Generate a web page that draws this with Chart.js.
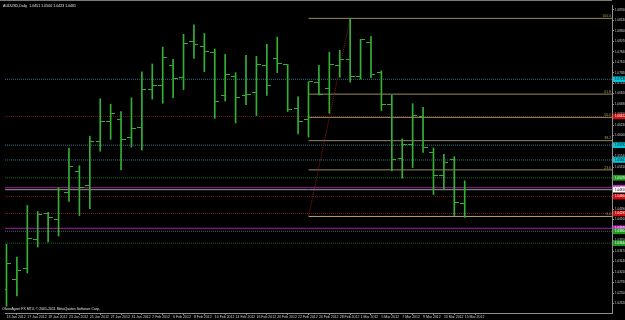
<!DOCTYPE html>
<html><head><meta charset="utf-8">
<script src="https://cdn.jsdelivr.net/npm/chart.js@4/dist/chart.umd.min.js"></script>
<style>html,body{margin:0;padding:0;background:#000;overflow:hidden}#wrap{width:625px;height:320px;position:relative}</style>
</head><body><div id="wrap"><canvas id="c" width="625" height="320"></canvas></div>
<script>
// ---------- data ----------
const symbolTitle = 'AUDUSD,Daily  1.0451 1.0500 1.0423 1.0481';
const footerText = 'OlvenAgent FX MT4, \u00A9 2001-2011 MetaQuotes Software Corp.';
const dates = ['13 Jan 2012','16 Jan 2012','17 Jan 2012','18 Jan 2012','19 Jan 2012','20 Jan 2012','23 Jan 2012','24 Jan 2012','25 Jan 2012','26 Jan 2012','27 Jan 2012','30 Jan 2012','31 Jan 2012','1 Feb 2012','2 Feb 2012','3 Feb 2012','6 Feb 2012','7 Feb 2012','8 Feb 2012','9 Feb 2012','10 Feb 2012','13 Feb 2012','14 Feb 2012','15 Feb 2012','16 Feb 2012','17 Feb 2012','20 Feb 2012','21 Feb 2012','22 Feb 2012','23 Feb 2012','24 Feb 2012','27 Feb 2012','28 Feb 2012','29 Feb 2012','1 Mar 2012','2 Mar 2012','5 Mar 2012','6 Mar 2012','7 Mar 2012','8 Mar 2012','9 Mar 2012','12 Mar 2012','13 Mar 2012','14 Mar 2012','15 Mar 2012'];
const opens  = [1.0262,1.0284,1.0310,1.0373,1.0430,1.0416,1.0475,1.0521,1.0490,1.0588,1.0630,1.0635,1.0597,1.0618,1.0701,1.0711,1.0754,1.0727,1.0807,1.0796,1.0783,1.0688,1.0729,1.0689,1.0695,1.0754,1.0770,1.0756,1.0659,1.0635,1.0717,1.0704,1.0754,1.0767,1.0730,1.0805,1.0739,1.0668,1.0550,1.0581,1.0642,1.0563,1.0513,1.0547,1.0451];
const highs  = [1.0362,1.0334,1.0447,1.0434,1.0432,1.0486,1.0573,1.0534,1.0599,1.0681,1.0669,1.0653,1.0683,1.0740,1.0757,1.0794,1.0767,1.0822,1.0843,1.0824,1.0790,1.0778,1.0738,1.0776,1.0774,1.0800,1.0816,1.0756,1.0685,1.0718,1.0754,1.0783,1.0787,1.0857,1.0811,1.0817,1.0742,1.0689,1.0593,1.0670,1.0662,1.0573,1.0559,1.0554,1.0501];
const lows   = [1.0226,1.0249,1.0299,1.0356,1.0367,1.0380,1.0456,1.0425,1.0440,1.0566,1.0592,1.0525,1.0575,1.0568,1.0680,1.0671,1.0683,1.0701,1.0769,1.0740,1.0638,1.0676,1.0628,1.0668,1.0644,1.0688,1.0738,1.0653,1.0604,1.0597,1.0689,1.0649,1.0728,1.0717,1.0724,1.0727,1.0655,1.0523,1.0507,1.0530,1.0563,1.0471,1.0483,1.0425,1.0421];
const closes = [1.0319,1.0304,1.0375,1.0427,1.0421,1.0482,1.0532,1.0486,1.0588,1.0631,1.0649,1.0592,1.0615,1.0702,1.0711,1.0771,1.0725,1.0803,1.0800,1.0785,1.0675,1.0733,1.0683,1.0691,1.0756,1.0709,1.0758,1.0657,1.0631,1.0718,1.0691,1.0757,1.0767,1.0730,1.0810,1.0733,1.0668,1.0548,1.0581,1.0644,1.0573,1.0513,1.0542,1.0454,1.0481];
const priceTicks = [1.0876,1.0853,1.0830,1.0807,1.0784,1.0761,1.0738,1.0715,1.0692,1.0669,1.0646,1.0623,1.0600,1.0577,1.0554,1.0531,1.0508,1.0485,1.0462,1.0439,1.0416,1.0393,1.0370,1.0347,1.0324,1.0301,1.0278,1.0255,1.0232];
const levelValues = [1.07236,1.06422,1.05792,1.05467,1.05076,1.04859,1.04816,1.04664,1.04295,1.03970,1.03904,1.03644];
const fibNames  = ['0.0','23.6','38.2','50.0','61.8','100.0'];
const fibPrices = [1.0423,1.0525,1.0589,1.0640,1.0691,1.0857];
const fibStartBar = 29, fibEndBar = 33;

// ---------- styles ----------
const BAR_GREEN = '#35b035';
const levelStyles = [
 {c:'#2f7585', dash:[1,1], box:'#00c8d8', txt:'#000'},
 {c:'#6e1818', dash:[1,1], box:'#d01010', txt:'#fff'},
 {c:'#2f7585', dash:[1,1], box:'#00c8d8', txt:'#000'},
 {c:'#2f7585', dash:[1,1], box:'#00c8d8', txt:'#000'},
 {c:'#1d6b1d', dash:[1,1], box:'#1f9a1f', txt:'#fff'},
 {c:'#a020a0', dash:[],    box:'#d020d0', txt:'#fff'},
 {c:'#9a9a9a', dash:[],    box:'#ffffff', txt:'#000'},
 {c:'#6e1818', dash:[1,1], box:'#d01010', txt:'#fff'},
 {c:'#801c1c', dash:[1,1], box:'#d01010', txt:'#fff'},
 {c:'#a020a0', dash:[],    box:'#d020d0', txt:'#fff'},
 {c:'#4f5f5f', dash:[1,1], box:'#1f9a1f', txt:'#fff'},
 {c:'#1d5a1d', dash:[1,1], box:'#1f9a1f', txt:'#fff'}
];
const FIB_COLOR = '#9a8a5a';
const X_MIN = -0.142857, X_MAX = 58.142857;
const Y_MIN = 1.02114, Y_MAX = 1.08863;

function tickCanvas(side){
  const cv = document.createElement('canvas');
  cv.width = 9; cv.height = 1;
  const g = cv.getContext('2d');
  g.fillStyle = BAR_GREEN;
  if (side === 'left') g.fillRect(0,0,4,1); else g.fillRect(5,0,4,1);
  return cv;
}
const openImg = tickCanvas('left'), closeImg = tickCanvas('right');

const datasets = [];
datasets.push({type:'bar', data: dates.map((d,i)=>({x:i, y:[lows[i], highs[i]]})),
  backgroundColor: BAR_GREEN, borderWidth:0, barThickness:1, grouped:false, order:1});
datasets.push({type:'scatter', data: dates.map((d,i)=>({x:i, y:opens[i]})), pointStyle: openImg, pointRadius:2, order:0});
datasets.push({type:'scatter', data: dates.map((d,i)=>({x:i, y:closes[i]})), pointStyle: closeImg, pointRadius:2, order:0});
levelValues.forEach((v,k)=>{
  datasets.push({type:'line', data:[{x:X_MIN,y:v},{x:X_MAX,y:v}], borderColor: levelStyles[k].c,
    borderDash: levelStyles[k].dash, borderWidth:1, pointRadius:0, fill:false, order:5});
});
fibPrices.forEach((p,k)=>{
  datasets.push({type:'line', data:[{x:fibStartBar,y:p},{x:X_MAX,y:p}], borderColor: k===0 ? '#b8a878' : FIB_COLOR,
    borderWidth:1, pointRadius:0, fill:false, order:4});
});
datasets.push({type:'line', data:[{x:fibStartBar,y:fibPrices[0]},{x:fibEndBar,y:fibPrices[fibPrices.length-1]}],
  borderColor:'#8b1a1a', borderDash:[1,1], borderWidth:1, pointRadius:0, fill:false, order:3});

const levelIndex = v => levelValues.findIndex(l => Math.abs(l - v) < 1e-7);

const decor = {
  id:'decor',
  beforeDraw(chart){
    const c = chart.ctx; c.save(); c.fillStyle='#000'; c.fillRect(0,0,chart.width,chart.height); c.restore();
  },
  afterDraw(chart){
    const c = chart.ctx, a = chart.chartArea, y = chart.scales.y;
    c.save();
    c.fillStyle = '#7a7a7a'; c.fillRect(0,0,a.right,1);
    c.fillStyle = '#e0e0e0';
    c.font = '3.6px "Liberation Sans", Arial, sans-serif';
    c.textBaseline = 'middle'; c.textAlign = 'left';
    c.fillText(symbolTitle, 3, 6);
    c.font = '3.5px "Liberation Sans", Arial, sans-serif';
    c.fillText(footerText, 2, 309);
    c.fillStyle = '#b09a5a';
    c.textAlign = 'right'; c.textBaseline = 'bottom';
    fibPrices.forEach((p,k)=>{ c.fillText(fibNames[k], a.right-1, y.getPixelForValue(p)-0.5); });
    c.restore();
  }
};

new Chart(document.getElementById('c'), {
  type:'bar',
  data:{datasets},
  plugins:[decor],
  options:{
    responsive:false, animation:false, devicePixelRatio:1,
    layout:{padding:{top:2,left:0,right:0,bottom:0}},
    plugins:{legend:{display:false}, tooltip:{enabled:false}},
    scales:{
      x:{type:'linear', min:X_MIN, max:X_MAX, offset:false, bounds:'data',
        afterBuildTicks: s => { s.ticks = dates.map((d,i)=>i).filter(i=>i%2===0).map(v=>({value:v})); },
        afterFit: s => { s.height = 7; },
        ticks:{autoSkip:false, maxRotation:0, align:'start', padding:0, color:'#d0d0d0',
          font:{size:3.5, family:'"Liberation Sans", Arial, sans-serif'},
          callback: v => dates[v]},
        grid:{display:true, drawOnChartArea:false, drawTicks:true, tickLength:2, color:'#909090'},
        border:{display:true, color:'#909090'}
      },
      y:{type:'linear', position:'right', min:Y_MIN, max:Y_MAX, bounds:'data',
        afterBuildTicks: s => { s.ticks = priceTicks.concat(levelValues).map(v=>({value:v})); },
        afterFit: s => { s.width = 13; },
        ticks:{autoSkip:false, padding:1, crossAlign:'near',
          font:{size:3, family:'"Liberation Sans", Arial, sans-serif'},
          color: ctx => { const k = levelIndex(ctx.tick.value); return k>=0 ? levelStyles[k].txt : '#d0d0d0'; },
          showLabelBackdrop: ctx => levelIndex(ctx.tick.value) >= 0,
          backdropColor: ctx => { const k = levelIndex(ctx.tick.value); return k>=0 ? levelStyles[k].box : 'rgba(0,0,0,0)'; },
          backdropPadding:{top:1,bottom:1,left:2,right:6},
          callback: v => Number(v).toFixed(5)},
        grid:{display:true, drawOnChartArea:false, drawTicks:true, tickLength:2, color:'#909090'},
        border:{display:true, color:'#909090'}
      }
    }
  }
});
</script>
</body></html>
